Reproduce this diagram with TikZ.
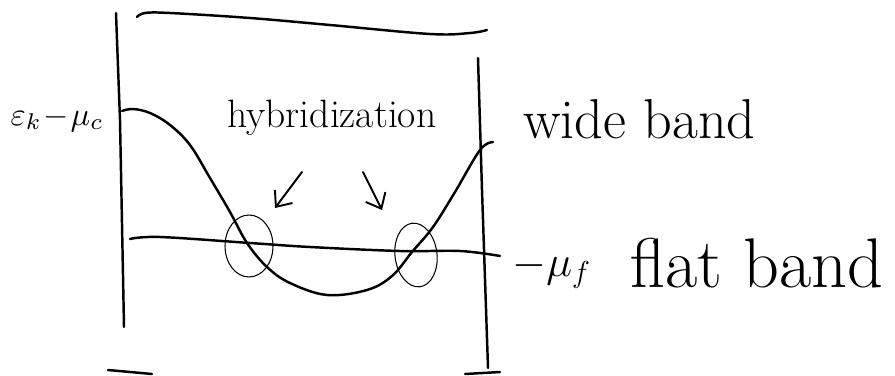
\documentclass[tikz,border=0pt]{standalone}
\usetikzlibrary{shapes.geometric,arrows.meta}
\begin{document}
\begin{tikzpicture}[x=0.02cm,y=-0.02cm,line cap=round,line join=round,
  pen/.style={line width=1.4pt},
  thinpen/.style={line width=0.6pt},
  ring/.style={draw,thinpen,ellipse,inner sep=0pt},
  label text/.style={inner sep=0pt,anchor=base west},
  pointer/.style={line width=1.1pt,-{Straight Barb[length=2.6mm,width=4.4mm]}}]
\useasboundingbox (0,0) rectangle (895,375);
\draw[pen] (116,13) -- (120,120) -- (124,327);
\draw[pen] (478,58) -- (482,190) -- (488,368);
\draw[pen] plot[smooth,tension=0.6] coordinates {(137,17) (145,13) (170,13) (250,18) (330,25) (430,34) (470,33) (487,30)};
\draw[pen] (108,370) -- (152,374);
\draw[pen] (465,374) -- (500,372);
\draw[pen] plot[smooth,tension=0.6] coordinates {(122,111) (133,109) (150,113) (170,125) (190,145) (210,178) (230,212) (247,243) (267,267) (290,283) (327,295) (367,290) (392,276) (412,252) (433,227) (455,192) (480,150) (493,142)};
\draw[pen] plot[smooth,tension=0.6] coordinates {(130,239) (160,237) (250,243) (310,247) (400,251) (460,251) (500,256)};
\node[ring,minimum width=0.96cm,minimum height=1.24cm] (lcross) at (249,246) {};
\node[ring,minimum width=0.84cm,minimum height=1.28cm,rotate=7] (rcross) at (416,255) {};
\node[label text,scale=1.85] (ek) at (10,125) {$\varepsilon_k\!-\!\mu_c$};
\node[label text,font=\fontsize{22.5}{26}\selectfont] (hyb) at (227,127) {hybridization};
\node[label text,font=\fontsize{32}{36}\selectfont] (wide) at (523,138) {wide band};
\node[label text,font=\fontsize{26}{30}\selectfont] (mu) at (512,276) {$-\mu_f$};
\node[label text,font=\fontsize{40}{44}\selectfont] (flat) at (630,287) {flat band};
\coordinate (la) at (302,172);
\coordinate (lb) at (275,208);
\coordinate (ra) at (363,172);
\coordinate (rb) at (382,210);
\draw[pointer] (la) -- (lb);
\draw[pointer] (ra) -- (rb);
\end{tikzpicture}
\end{document}
